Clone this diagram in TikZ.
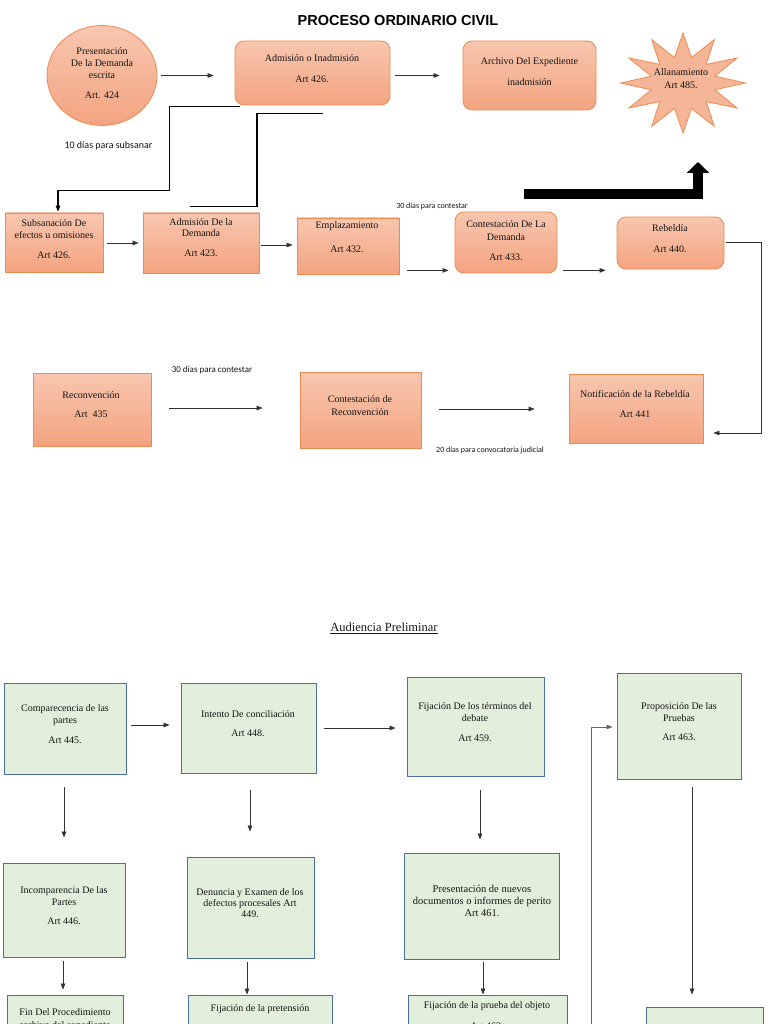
\documentclass[tikz,border=0pt]{standalone}
\usepackage{fontspec}
\setmainfont{Liberation Serif}
\newfontfamily\labfont{Carlito}
\newfontfamily\titfont{Liberation Sans}
\usetikzlibrary{shapes.geometric,arrows.meta,calc}
\definecolor{salTop}{RGB}{248,198,175}
\definecolor{salBot}{RGB}{243,164,128}
\definecolor{salLine}{RGB}{238,138,80}
\definecolor{grnFill}{RGB}{226,239,218}
\definecolor{grnLine}{RGB}{72,108,172}
\definecolor{lineC}{RGB}{50,50,50}
\begin{document}
\begin{tikzpicture}[x=1pt,y=-1pt,
  salbox/.style={draw=salLine, line width=0.8pt, top color=salTop, bottom color=salBot, inner sep=0pt},
  salround/.style={salbox, rounded corners=9pt},
  grnbox/.style={draw=grnLine, line width=0.9pt, fill=grnFill, inner sep=0pt},
  txt/.style={font=\fontsize{10}{12}\selectfont, align=center, inner sep=0pt, text=black!92},
  lab/.style={font=\labfont\fontsize{#1}{#1}\selectfont, inner sep=0pt, text=black!92},
  lab/.default=9,
  arr/.style={draw=lineC, line width=0.7pt, -{Triangle[length=6pt,width=4.5pt]}},
  conn/.style={draw=black, line width=1.1pt},
]
\useasboundingbox (0,0) rectangle (768,1024);
\clip (0,0) rectangle (768,1024);

% title
\node[font=\titfont\bfseries\fontsize{14.5}{16}\selectfont, inner sep=0pt] (title) at (398,20.5) {PROCESO ORDINARIO CIVIL};

% ---------- salmon boxes ----------
\node[salbox, ellipse, minimum width=110, minimum height=100] (pres) at (102,75.5) {};
\node[salround, minimum width=155, minimum height=64] (adm) at (312.5,73) {};
\node[salround, minimum width=133, minimum height=69] (arch) at (529.5,75.5) {};
\node[star, star points=12, star point ratio=1.9, minimum size=100, xscale=1.25,
      draw=salLine, fill=salTop!50!salBot, line width=0.8pt, inner sep=0pt] (allan) at (683,83) {};
\node[salbox, minimum width=98, minimum height=59] (subs) at (54,242.5) {};
\node[salbox, minimum width=116, minimum height=60] (admd) at (201,243) {};
\node[salbox, minimum width=102, minimum height=56] (empl) at (348,246) {};
\node[salround, minimum width=102, minimum height=61] (contd) at (506,242.5) {};
\node[salround, minimum width=107, minimum height=52] (rebel) at (670.5,243) {};
\node[salbox, minimum width=118, minimum height=73] (recon) at (92,409.5) {};
\node[salbox, minimum width=121, minimum height=76] (conrec) at (360.5,410) {};
\node[salbox, minimum width=134, minimum height=69] (notif) at (636,408.5) {};

% texts
\node[txt] (pres-t) at (102,73) {Presentación\\De la Demanda\\escrita\\[8pt]Art. 424};
\node[txt] (adm-t) at (312,68.5) {Admisión o Inadmisión\\[9pt]Art 426.};
\node[txt] (arch-t) at (529.5,71.5) {Archivo Del Expediente\\[9pt]inadmisión};
\node[txt] (allan-t) at (681,78.5) {Allanamiento\\[1pt]Art 485.};
\node[txt] (subs-t) at (54,239) {Subsanación De\\efectos u omisiones\\[8pt]Art 426.};
\node[txt] (admd-t) at (201,237.5) {Admisión De la\\[-1pt]Demanda\\[8pt]Art 423.};
\node[txt] (empl-t) at (347,237) {Emplazamiento\\[12pt]Art 432.};
\node[txt] (contd-t) at (506,240.5) {Contestación De La\\[1pt]Demanda\\[8pt]Art 433.};
\node[txt] (rebel-t) at (670,238.5) {Rebeldía\\[9pt]Art 440.};
\node[txt] (recon-t) at (91,404.5) {Reconvención\\[7pt]Art~~435};
\node[txt] (conrec-t) at (360,405.5) {Contestación de\\[1pt]Reconvención};
\node[txt] (notif-t) at (635,404) {Notificación de la Rebeldía\\[8pt]Art 441};

\node[lab=10] (lab10) at (108.5,146) {10 días para subsanar};
\node[lab=8] (lab30a) at (432,206) {30 días para contestar};
\node[lab=9] (lab30b) at (212,370) {30 días para contestar};
\node[lab=8] (lab20) at (490,450) {20 días para convocatoria judicial};

% connectors top
\draw[arr, shorten <=4pt, shorten >=21pt] (pres.east) -- (pres.east -| adm.west);
\draw[arr, shorten <=5pt, shorten >=23pt] (arch.west -| adm.east) -- (arch.west);
\draw[conn, -{Triangle[length=6pt,width=4.5pt]}] ($(adm.south west)+(5,1)$) -- ++(-70,0) -- ++(0,84) -| ($(subs.north)+(4,-1)$);
\draw[conn] ($(adm.south)+(10.5,8)$) -- ++(-66,0) |- ($(admd.north)+(-11,-6)$);
\draw[arr] ($(subs.east)+(4,0.5)$) -- ($(admd.west)+(-4,0)$);
\draw[arr] ($(admd.east)+(2,2)$) -- ($(empl.west)+(-4,-1)$);
\draw[arr] ($(empl.south east)+(8,-4)$) -- ($(contd.south west)+(-6,-3)$);
\draw[arr] ($(contd.south east)+(6,-3)$) -- ($(rebel.south west)+(-11,1)$);
\draw[arr] ($(rebel.east)+(2,-1)$) -- ++(35,0) |- ($(notif.east)+(10,24.5)$);
\draw[arr] ($(recon.east)+(18,-1.5)$) -- ($(conrec.west)+(-37,-2)$);
\draw[arr] ($(conrec.east)+(18,-1)$) -- ($(notif.west)+(-34,0.5)$);
\draw[draw=black, line width=10pt, -{Triangle[length=11pt,width=22pt]}] ($(contd.north)+(18,-17.5)$) -| ($(allan.center)+(15,79)$);

% ---------- Audiencia Preliminar ----------
\node[font=\fontsize{12.5}{14}\selectfont, inner sep=0pt, text=black!92] (aud) at (384,628) {\underline{Audiencia Preliminar}};

\node[grnbox, minimum width=122, minimum height=91] (comp) at (65,728.5) {};
\node[grnbox, minimum width=135, minimum height=90] (intento) at (248.5,728) {};
\node[grnbox, minimum width=137, minimum height=99] (fijt) at (475.5,726.5) {};
\node[grnbox, minimum width=124, minimum height=106] (prop) at (679,726) {};
\node[grnbox, minimum width=122, minimum height=94] (incomp) at (64,910) {};
\node[grnbox, minimum width=127, minimum height=101] (denun) at (250.5,907.5) {};
\node[grnbox, minimum width=155, minimum height=106] (presn) at (481.5,906) {};
\node[grnbox, minimum width=116, minimum height=65] (fin) at (65,1027.5) {};
\node[grnbox, minimum width=144, minimum height=65] (fijp) at (260,1027.5) {};
\node[grnbox, minimum width=159, minimum height=65] (fijo) at (487.5,1027.5) {};
\node[grnbox, minimum width=117, minimum height=63] (last) at (704.5,1038.5) {};

\node[txt] (comp-t) at (65,724) {Comparecencia de las\\partes\\[8pt]Art 445.};
\node[txt] (intento-t) at (248,723.5) {Intento De conciliación\\[7pt]Art 448.};
\node[txt] (fijt-t) at (475,722) {Fijación De los términos del\\debate\\[8pt]Art 459.};
\node[txt] (prop-t) at (679,721.5) {Proposición De las\\Pruebas\\[7pt]Art 463.};
\node[txt] (incomp-t) at (64,905.5) {Incomparencia De las\\Partes\\[7pt]Art 446.};
\node[txt] (denun-t) at (250,903) {Denuncia y Examen de los\\[-1pt]defectos procesales Art\\[-1pt]449.};
\node[txt, font=\fontsize{10.5}{12}\selectfont] (presn-t) at (482,901) {Presentación de nuevos\\documentos o informes de perito\\Art 461.};
\node[txt] (fin-t) at (65,1019.5) {Fin Del Procedimiento\\[1pt]archivo del expediente};
\node[txt] (fijp-t) at (260,1018.5) {Fijación de la pretensión\\[9pt]Art 460.};
\node[txt] (fijo-t) at (487,1015.5) {Fijación de la prueba del objeto\\[9pt]Art 462.};

\draw[arr] ($(comp.east)+(5,-3.5)$) -- ($(intento.west)+(-11,-3)$);
\draw[arr] ($(intento.east)+(8,0)$) -- ($(fijt.west)+(-11,1.5)$);
\coordinate (vbot) at (591,1030);
\draw[arr, draw=gray!80!black] (vbot) |- ($(prop.west)+(-4,1)$);
\draw[arr] ($(comp.south)+(-1,13)$) -- ($(incomp.north)+(0,-25)$);
\draw[arr] ($(intento.south)+(1.5,17)$) -- ($(denun.north)+(-0.5,-25)$);
\draw[arr] ($(fijt.south)+(4.5,14)$) -- ($(presn.north)+(-1.5,-13)$);
\draw[arr] ($(prop.south)+(13,8)$) -- ($(last.north)+(-12.5,-12)$);
\draw[arr] ($(incomp.south)+(-1,4)$) -- ($(fin.north)+(-2,-5)$);
\draw[arr] ($(denun.south)+(-3.5,4)$) -- ($(fijp.north)+(-13,0)$);
\draw[arr] ($(presn.south)+(1.5,3)$) -- ($(fijo.north)+(-4.5,0)$);
\end{tikzpicture}
\end{document}
